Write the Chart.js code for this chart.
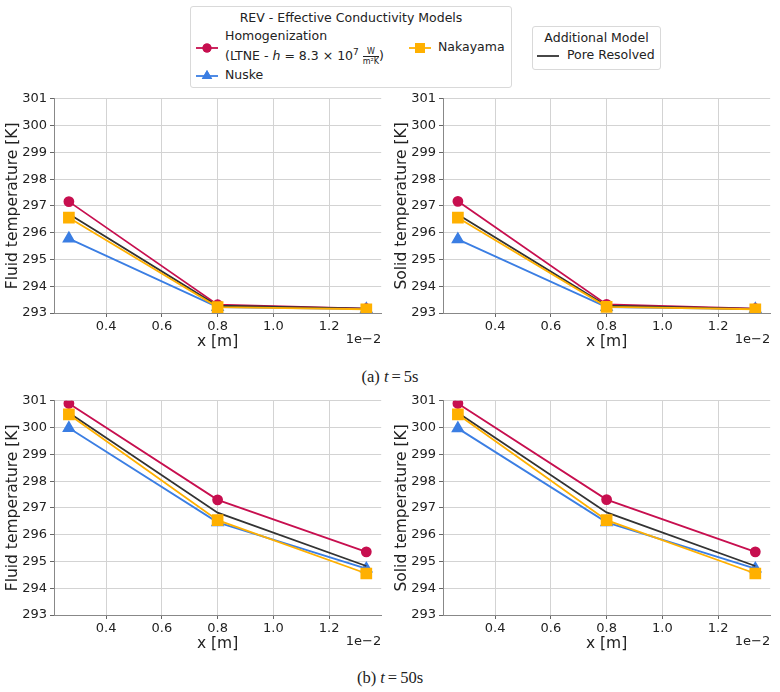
<!DOCTYPE html>
<html>
<head>
<meta charset="utf-8">
<script src="https://cdn.jsdelivr.net/npm/chart.js@4"></script>
<style>
  body { margin: 0; background: #fff; font-family: 'DejaVu Sans', sans-serif; color: #222; }
  #page { position: relative; width: 780px; height: 692px; overflow: hidden; }
  canvas { position: absolute; }
  .legend { position: absolute; border: 1px solid #d9d9d9; border-radius: 3px; background: #fff; font-size: 12.5px; }
  .lg-title { position: absolute; left: 0; right: 0; text-align: center; }
  .item { position: absolute; white-space: nowrap; }
  .swatch { position: absolute; }
  .frac { display: inline-block; vertical-align: middle; text-align: center; font-size: 8px; line-height: 9px; }
  .frac span { display: block; }
  .frac span:first-child { border-bottom: 0.8px solid #222; padding: 0 1px; }
  .caption { position: absolute; left: 0; right: 0; text-align: center; font-family: 'Liberation Serif', serif; font-size: 16.5px; }
  .caption .eq { padding: 0 3px; }
</style>
</head>
<body>
<div id="page">
  <div class="legend" style="left:190px; top:6px; width:320px; height:80px;">
    <div class="lg-title" style="top:3px;">REV - Effective Conductivity Models</div>
    <canvas id="sw1" class="swatch" width="24" height="14" style="left:4px; top:34px;"></canvas>
    <div class="item" style="left:34px; top:20px; line-height:17px;">Homogenization<br>(LTNE - <i>h</i> = 8.3 × 10<sup style="font-size:9px;">7</sup> <span class="frac"><span>W</span><span>m²K</span></span>)</div>
    <canvas id="sw2" class="swatch" width="24" height="14" style="left:4px; top:62px;"></canvas>
    <div class="item" style="left:34px; top:60px;">Nuske</div>
    <canvas id="sw3" class="swatch" width="24" height="14" style="left:217px; top:34px;"></canvas>
    <div class="item" style="left:247px; top:32px;">Nakayama</div>
  </div>
  <div class="legend" style="left:532px; top:26px; width:127px; height:42px;">
    <div class="lg-title" style="top:3px;">Additional Model</div>
    <canvas id="sw4" class="swatch" width="24" height="14" style="left:3px; top:22px;"></canvas>
    <div class="item" style="left:34px; top:20px;">Pore Resolved</div>
  </div>

  <canvas id="c1" width="390" height="272" style="left:0px; top:88px;"></canvas>
  <canvas id="c2" width="390" height="272" style="left:389px; top:88px;"></canvas>
  <div class="caption" style="top:367px;">(a) <i>t</i><span class="eq">=</span>5s</div>
  <canvas id="c3" width="390" height="272" style="left:0px; top:390px;"></canvas>
  <canvas id="c4" width="390" height="272" style="left:389px; top:390px;"></canvas>
  <div class="caption" style="top:668px;">(b) <i>t</i><span class="eq">=</span>50s</div>
</div>
<script>
// positions along the sample, in units of 1e-2 m
const xPos = [0.2667, 0.8, 1.3333];
const xTicks = [0.4, 0.6, 0.8, 1.0, 1.2];
const yTicks = [293, 294, 295, 296, 297, 298, 299, 300, 301];

// t = 5 s
const fluidHomog5 = [297.16, 293.31, 293.16];
const fluidNuske5 = [295.78, 293.22, 293.15];
const fluidNaka5 = [296.56, 293.22, 293.14];
const fluidPore5 = [296.70, 293.27, 293.16];

const solidHomog5 = [297.17, 293.32, 293.16];
const solidNuske5 = [295.75, 293.22, 293.15];
const solidNaka5 = [296.56, 293.23, 293.14];
const solidPore5 = [296.68, 293.27, 293.15];

// t = 50 s
const fluidHomog50 = [300.90, 297.30, 295.36];
const fluidNuske50 = [299.98, 296.46, 294.73];
const fluidNaka50 = [300.49, 296.54, 294.55];
const fluidPore50 = [300.55, 296.82, 294.83];

const solidHomog50 = [300.90, 297.31, 295.36];
const solidNuske50 = [299.97, 296.46, 294.73];
const solidNaka50 = [300.49, 296.54, 294.55];
const solidPore50 = [300.55, 296.83, 294.83];

const RED = '#C70F4F';
const BLUE = '#3B7EE3';
const ORANGE = '#FFB000';
const BLACK = '#333333';
const FONT = 'DejaVu Sans';

const pts = vals => vals.map((v, i) => ({ x: xPos[i], y: v }));

// "1e-2" offset text under the x axis, like matplotlib
const offsetLabel = {
  id: 'offsetLabel',
  afterDraw(chart) {
    const ctx = chart.ctx;
    ctx.save();
    ctx.font = '13px ' + FONT;
    ctx.fillStyle = '#222';
    ctx.textAlign = 'right';
    ctx.textBaseline = 'middle';
    ctx.fillText('1e\u22122', chart.chartArea.right, chart.chartArea.bottom + 27);
    ctx.restore();
  }
};

function makeChart(id, yLabel, homog, nuske, naka, pore) {
  return new Chart(document.getElementById(id).getContext('2d'), {
    type: 'line',
    data: {
      datasets: [
        { label: 'Homogenization', data: pts(homog), borderColor: RED, backgroundColor: RED,
          pointStyle: 'circle', pointRadius: 4.5, borderWidth: 1.8, order: 2 },
        { label: 'Nuske', data: pts(nuske), borderColor: BLUE, backgroundColor: BLUE,
          pointStyle: 'triangle', pointRadius: 6, borderWidth: 1.8, order: 3 },
        { label: 'Pore Resolved', data: pts(pore), borderColor: BLACK, backgroundColor: BLACK,
          pointRadius: 0, borderWidth: 1.8, order: 1 },
        { label: 'Nakayama', data: pts(naka), borderColor: ORANGE, backgroundColor: ORANGE,
          pointStyle: 'rect', pointRadius: 7, borderWidth: 1.8, order: 0 },
      ],
    },
    options: {
      responsive: false,
      animation: false,
      devicePixelRatio: 1,
      layout: { padding: { top: 9, right: 8, left: 0, bottom: 0 } },
      plugins: { legend: { display: false }, tooltip: { enabled: false } },
      elements: { line: { tension: 0 }, point: { borderWidth: 0 } },
      scales: {
        x: {
          type: 'linear', min: 0.2133, max: 1.3867,
          afterBuildTicks: s => { s.ticks = xTicks.map(v => ({ value: v })); },
          afterFit: s => { s.height = 47; },
          ticks: { callback: v => v.toFixed(1), color: '#222', font: { family: FONT, size: 13 }, padding: 2, maxRotation: 0 },
          grid: { color: '#d3d3d3', lineWidth: 1, tickLength: 4, tickColor: '#666' },
          border: { color: '#888', width: 1 },
          title: { display: true, text: 'x [m]', color: '#222', font: { family: FONT, size: 15.5 }, padding: { top: 0, bottom: 9 } },
        },
        y: {
          min: 293, max: 301,
          afterBuildTicks: s => { s.ticks = yTicks.map(v => ({ value: v })); },
          afterFit: s => { s.width = 54; },
          ticks: { color: '#222', font: { family: FONT, size: 13 }, padding: 3 },
          grid: { color: '#d3d3d3', lineWidth: 1, tickLength: 4, tickColor: '#666' },
          border: { color: '#888', width: 1 },
          title: { display: true, text: yLabel, color: '#222', font: { family: FONT, size: 15.5 }, padding: { top: 4, bottom: 0 } },
        },
      },
    },
    plugins: [offsetLabel],
  });
}

makeChart('c1', 'Fluid temperature [K]', fluidHomog5, fluidNuske5, fluidNaka5, fluidPore5);
makeChart('c2', 'Solid temperature [K]', solidHomog5, solidNuske5, solidNaka5, solidPore5);
makeChart('c3', 'Fluid temperature [K]', fluidHomog50, fluidNuske50, fluidNaka50, fluidPore50);
makeChart('c4', 'Solid temperature [K]', solidHomog50, solidNuske50, solidNaka50, solidPore50);

// legend swatches
function swatch(id, color, style, r) {
  const ctx = document.getElementById(id).getContext('2d');
  ctx.strokeStyle = color;
  ctx.lineWidth = 1.8;
  ctx.beginPath(); ctx.moveTo(1, 7); ctx.lineTo(23, 7); ctx.stroke();
  if (style) {
    ctx.fillStyle = color;
    Chart.helpers.drawPoint(ctx, { pointStyle: style, radius: r, rotation: 0, borderWidth: 0 }, 12, 7);
    ctx.fill();
  }
}
swatch('sw1', RED, 'circle', 4.5);
swatch('sw2', BLUE, 'triangle', 6);
swatch('sw3', ORANGE, 'rect', 7);
swatch('sw4', BLACK, null, 0);
</script>
</body>
</html>
